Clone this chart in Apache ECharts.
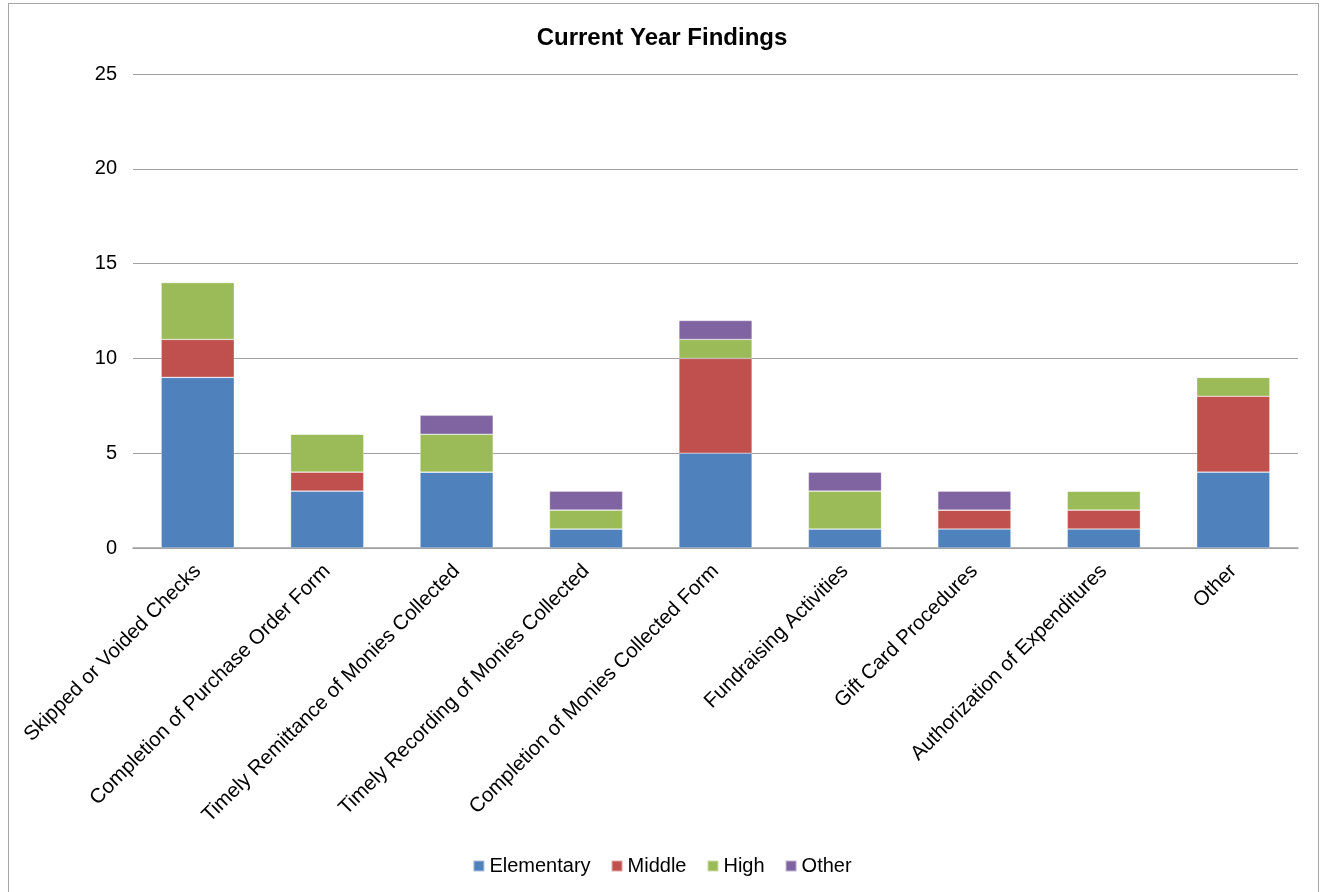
<!DOCTYPE html>
<html>
<head>
<meta charset="utf-8">
<script src="https://cdn.jsdelivr.net/npm/echarts@6/dist/echarts.min.js"></script>
<style>
html,body{margin:0;padding:0;background:#fff;}
#frame{position:absolute;left:8px;top:3px;width:1311px;height:900px;border:1.5px solid #a6a6a6;box-sizing:border-box;}
#chart{position:absolute;left:0;top:0;width:1324px;height:892px;}
</style>
</head>
<body>
<div id="frame"></div>
<div id="chart"></div>
<script>
const categories = [
  "Skipped or Voided Checks",
  "Completion of Purchase Order Form",
  "Timely Remittance of Monies Collected",
  "Timely Recording of Monies Collected",
  "Completion of Monies Collected Form",
  "Fundraising Activities",
  "Gift Card Procedures",
  "Authorization of Expenditures",
  "Other"
];
const elementary = [9, 3, 4, 1, 5, 1, 1, 1, 4];
const middle     = [2, 1, 0, 0, 5, 0, 1, 1, 4];
const high       = [3, 2, 2, 1, 1, 2, 0, 1, 1];
const other      = [0, 0, 1, 1, 1, 1, 1, 0, 0];
const yTicks = [0, 5, 10, 15, 20, 25];

const font = "Liberation Sans, Arial, sans-serif";
const chart = echarts.init(document.getElementById('chart'));
function s(name, data, color) {
  return {
    name: name, type: 'bar', stack: 'total', data: data,
    barWidth: '56.5%',
    itemStyle: { color: color, borderColor: 'rgba(255,255,255,0.5)', borderWidth: 0.6 },
    emphasis: { disabled: true }
  };
}
chart.setOption({
  animation: false,
  backgroundColor: 'transparent',
  title: {
    text: 'Current Year Findings', left: 'center', top: 21,
    textStyle: { fontFamily: font, fontSize: 24, fontWeight: 'bold', color: '#000' }
  },
  legend: {
    bottom: 11, left: 'center',
    itemWidth: 11, itemHeight: 11, itemGap: 20,
    icon: 'rect',
    textStyle: { fontFamily: font, fontSize: 20, color: '#000', padding: [0, 0, 0, 0] },
    data: ['Elementary', 'Middle', 'High', 'Other']
  },
  grid: { left: 133, right: 26, top: 74, bottom: 344, containLabel: false },
  xAxis: {
    type: 'category', data: categories,
    axisLine: { lineStyle: { color: '#a0a0a0', width: 1.5 } },
    axisTick: { show: false },
    axisLabel: { rotate: 45, fontFamily: font, fontSize: 20.5, color: '#000', interval: 0, margin: 20 }
  },
  yAxis: {
    type: 'value', min: yTicks[0], max: yTicks[yTicks.length - 1], interval: 5,
    axisLine: { show: false }, axisTick: { show: false },
    axisLabel: { fontFamily: font, fontSize: 20, color: '#000', margin: 16 },
    splitLine: { lineStyle: { color: '#a0a0a0', width: 1.2 } }
  },
  series: [
    s('Elementary', elementary, '#4F81BD'),
    s('Middle', middle, '#C0504D'),
    s('High', high, '#9BBB59'),
    s('Other', other, '#8064A2')
  ]
});
</script>
</body>
</html>
